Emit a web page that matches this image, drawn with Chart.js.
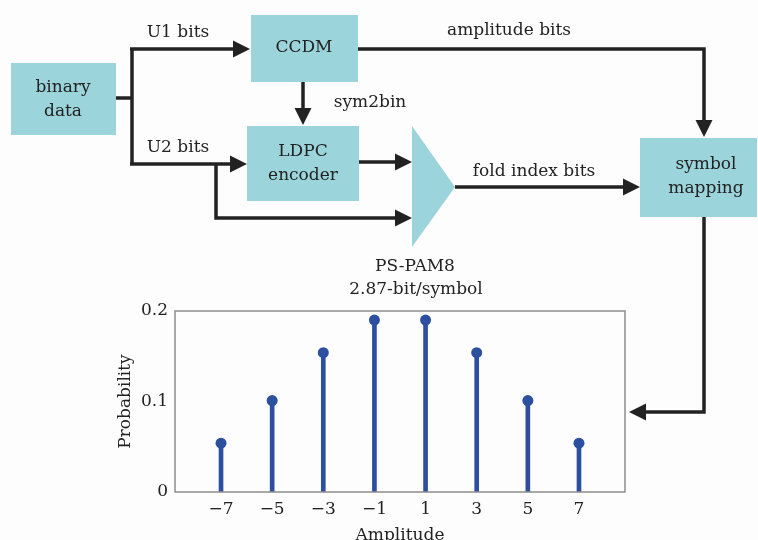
<!DOCTYPE html>
<html lang="en">
<head>
    <meta charset="UTF-8">
    <title>PS-PAM8 block diagram</title>
    <script src="https://cdn.jsdelivr.net/npm/chart.js@4.4.1/dist/chart.umd.min.js"></script>
    <style>
        body {
            margin: 0;
            background: #fdfdfd;
        }
        #wrap {
            position: relative;
            width: 758px;
            height: 540px;
        }
    </style>
</head>
<body>
    <div id="wrap"><canvas id="stemChart"></canvas></div>
    <script>
        const amplitudes = [-7, -5, -3, -1, 1, 3, 5, 7];
        const probabilities = [0.054, 0.101, 0.154, 0.19, 0.19, 0.154, 0.101, 0.054];
        const yTicks = [0, 0.1, 0.2];

        const serif = '"DejaVu Serif", "Liberation Serif", serif';
        const ink = '#222';
        const boxFill = '#9bd4db';
        const stemBlue = '#2c4f9f';

        const points = amplitudes.map((a, i) => ({ x: a, y: probabilities[i] }));

        function line(ctx, pts) {
            ctx.beginPath();
            ctx.moveTo(pts[0][0], pts[0][1]);
            for (let i = 1; i < pts.length; i++) ctx.lineTo(pts[i][0], pts[i][1]);
            ctx.stroke();
        }

        // polyline ending in a filled arrow head at the last point
        function arrow(ctx, pts) {
            const n = pts.length;
            const [x1, y1] = pts[n - 2];
            const [x2, y2] = pts[n - 1];
            const ang = Math.atan2(y2 - y1, x2 - x1);
            const len = 17, half = 8.5;
            const bx = x2 - len * Math.cos(ang), by = y2 - len * Math.sin(ang);
            const shaft = pts.slice(0, n - 1).concat([[bx, by]]);
            line(ctx, shaft);
            ctx.beginPath();
            ctx.moveTo(x2, y2);
            ctx.lineTo(bx + half * Math.sin(ang), by - half * Math.cos(ang));
            ctx.lineTo(bx - half * Math.sin(ang), by + half * Math.cos(ang));
            ctx.closePath();
            ctx.fill();
        }

        function box(ctx, x1, y1, x2, y2, lines, cx, ys) {
            ctx.fillStyle = boxFill;
            ctx.fillRect(x1, y1, x2 - x1, y2 - y1);
            ctx.fillStyle = ink;
            lines.forEach((t, i) => ctx.fillText(t, cx, ys[i]));
        }

        const diagram = {
            id: 'diagram',
            afterDraw(chart) {
                const ctx = chart.ctx;
                const a = chart.chartArea;
                ctx.save();

                // frame round the plot
                ctx.strokeStyle = '#8c8c8c';
                ctx.lineWidth = 1.5;
                ctx.strokeRect(a.left, a.top, a.right - a.left, a.bottom - a.top);

                ctx.font = '17px ' + serif;
                ctx.textAlign = 'center';
                ctx.textBaseline = 'middle';

                box(ctx, 11, 63, 116, 135, ['binary', 'data'], 63, [88, 112]);
                box(ctx, 251, 15, 358, 82, ['CCDM'], 304, [48]);
                box(ctx, 247, 126, 359, 201, ['LDPC', 'encoder'], 303, [152, 176]);
                box(ctx, 640, 138, 757, 217, ['symbol', 'mapping'], 706, [165, 189]);

                ctx.fillStyle = boxFill;
                ctx.beginPath();
                ctx.moveTo(412, 126);
                ctx.lineTo(455, 187);
                ctx.lineTo(412, 247);
                ctx.closePath();
                ctx.fill();

                ctx.strokeStyle = ink;
                ctx.fillStyle = ink;
                ctx.lineWidth = 3.5;
                ctx.lineJoin = 'miter';
                ctx.lineCap = 'butt';

                line(ctx, [[116, 98], [132, 98]]);
                line(ctx, [[132, 49], [132, 164]]);
                arrow(ctx, [[130, 49], [250, 49]]);
                arrow(ctx, [[130, 164], [247, 164]]);
                arrow(ctx, [[216, 164], [216, 218], [412, 218]]);
                arrow(ctx, [[303, 82], [303, 125]]);
                arrow(ctx, [[359, 162], [412, 162]]);
                arrow(ctx, [[358, 49], [704, 49], [704, 137]]);
                arrow(ctx, [[455, 187], [640, 187]]);
                arrow(ctx, [[704, 217], [704, 412], [629, 412]]);

                ctx.fillText('U1 bits', 178, 33);
                ctx.fillText('U2 bits', 178, 148);
                ctx.fillText('amplitude bits', 509, 31);
                ctx.fillText('sym2bin', 370, 103);
                ctx.fillText('fold index bits', 534, 172);
                ctx.fillText('PS-PAM8', 415, 267);
                ctx.fillText('2.87-bit/symbol', 416, 290);

                ctx.restore();
            }
        };

        const ctx = document.getElementById('stemChart').getContext('2d');
        new Chart(ctx, {
            type: 'scatter',
            data: {
                datasets: [{
                    type: 'bar',
                    label: 'stem',
                    data: points,
                    backgroundColor: stemBlue,
                    barThickness: 4,
                    borderWidth: 0
                }, {
                    type: 'scatter',
                    label: 'Probability',
                    data: points,
                    backgroundColor: stemBlue,
                    borderWidth: 0,
                    pointRadius: 5.5
                }]
            },
            options: {
                responsive: true,
                maintainAspectRatio: false,
                animation: false,
                layout: {
                    padding: { left: 115, top: 311, right: 133, bottom: -8 }
                },
                plugins: {
                    legend: { display: false },
                    tooltip: { enabled: false }
                },
                scales: {
                    x: {
                        type: 'linear',
                        min: -8.8,
                        max: 8.8,
                        offset: false,
                        grid: { display: false, drawTicks: false },
                        border: { display: false },
                        afterBuildTicks: s => { s.ticks = amplitudes.map(v => ({ value: v })); },
                        afterFit: s => { s.height = 56; },
                        ticks: {
                            padding: 7,
                            color: ink,
                            font: { family: serif, size: 17 },
                            callback: v => (v < 0 ? '\u2212' + Math.abs(v) : String(v))
                        },
                        title: {
                            display: true,
                            text: 'Amplitude',
                            color: ink,
                            font: { family: serif, size: 17 },
                            padding: { top: 0, bottom: 2 }
                        }
                    },
                    y: {
                        min: 0,
                        max: 0.2,
                        grid: { display: false, drawTicks: false },
                        border: { display: false },
                        afterBuildTicks: s => { s.ticks = yTicks.map(v => ({ value: v })); },
                        afterFit: s => { s.width = 60; },
                        ticks: {
                            padding: 7,
                            color: ink,
                            font: { family: serif, size: 17 },
                            callback: v => (v === 0 ? '0' : v.toFixed(1))
                        },
                        title: {
                            display: true,
                            text: 'Probability',
                            color: ink,
                            font: { family: serif, size: 17 },
                            padding: 0
                        }
                    }
                }
            },
            plugins: [diagram]
        });
    </script>
</body>
</html>
